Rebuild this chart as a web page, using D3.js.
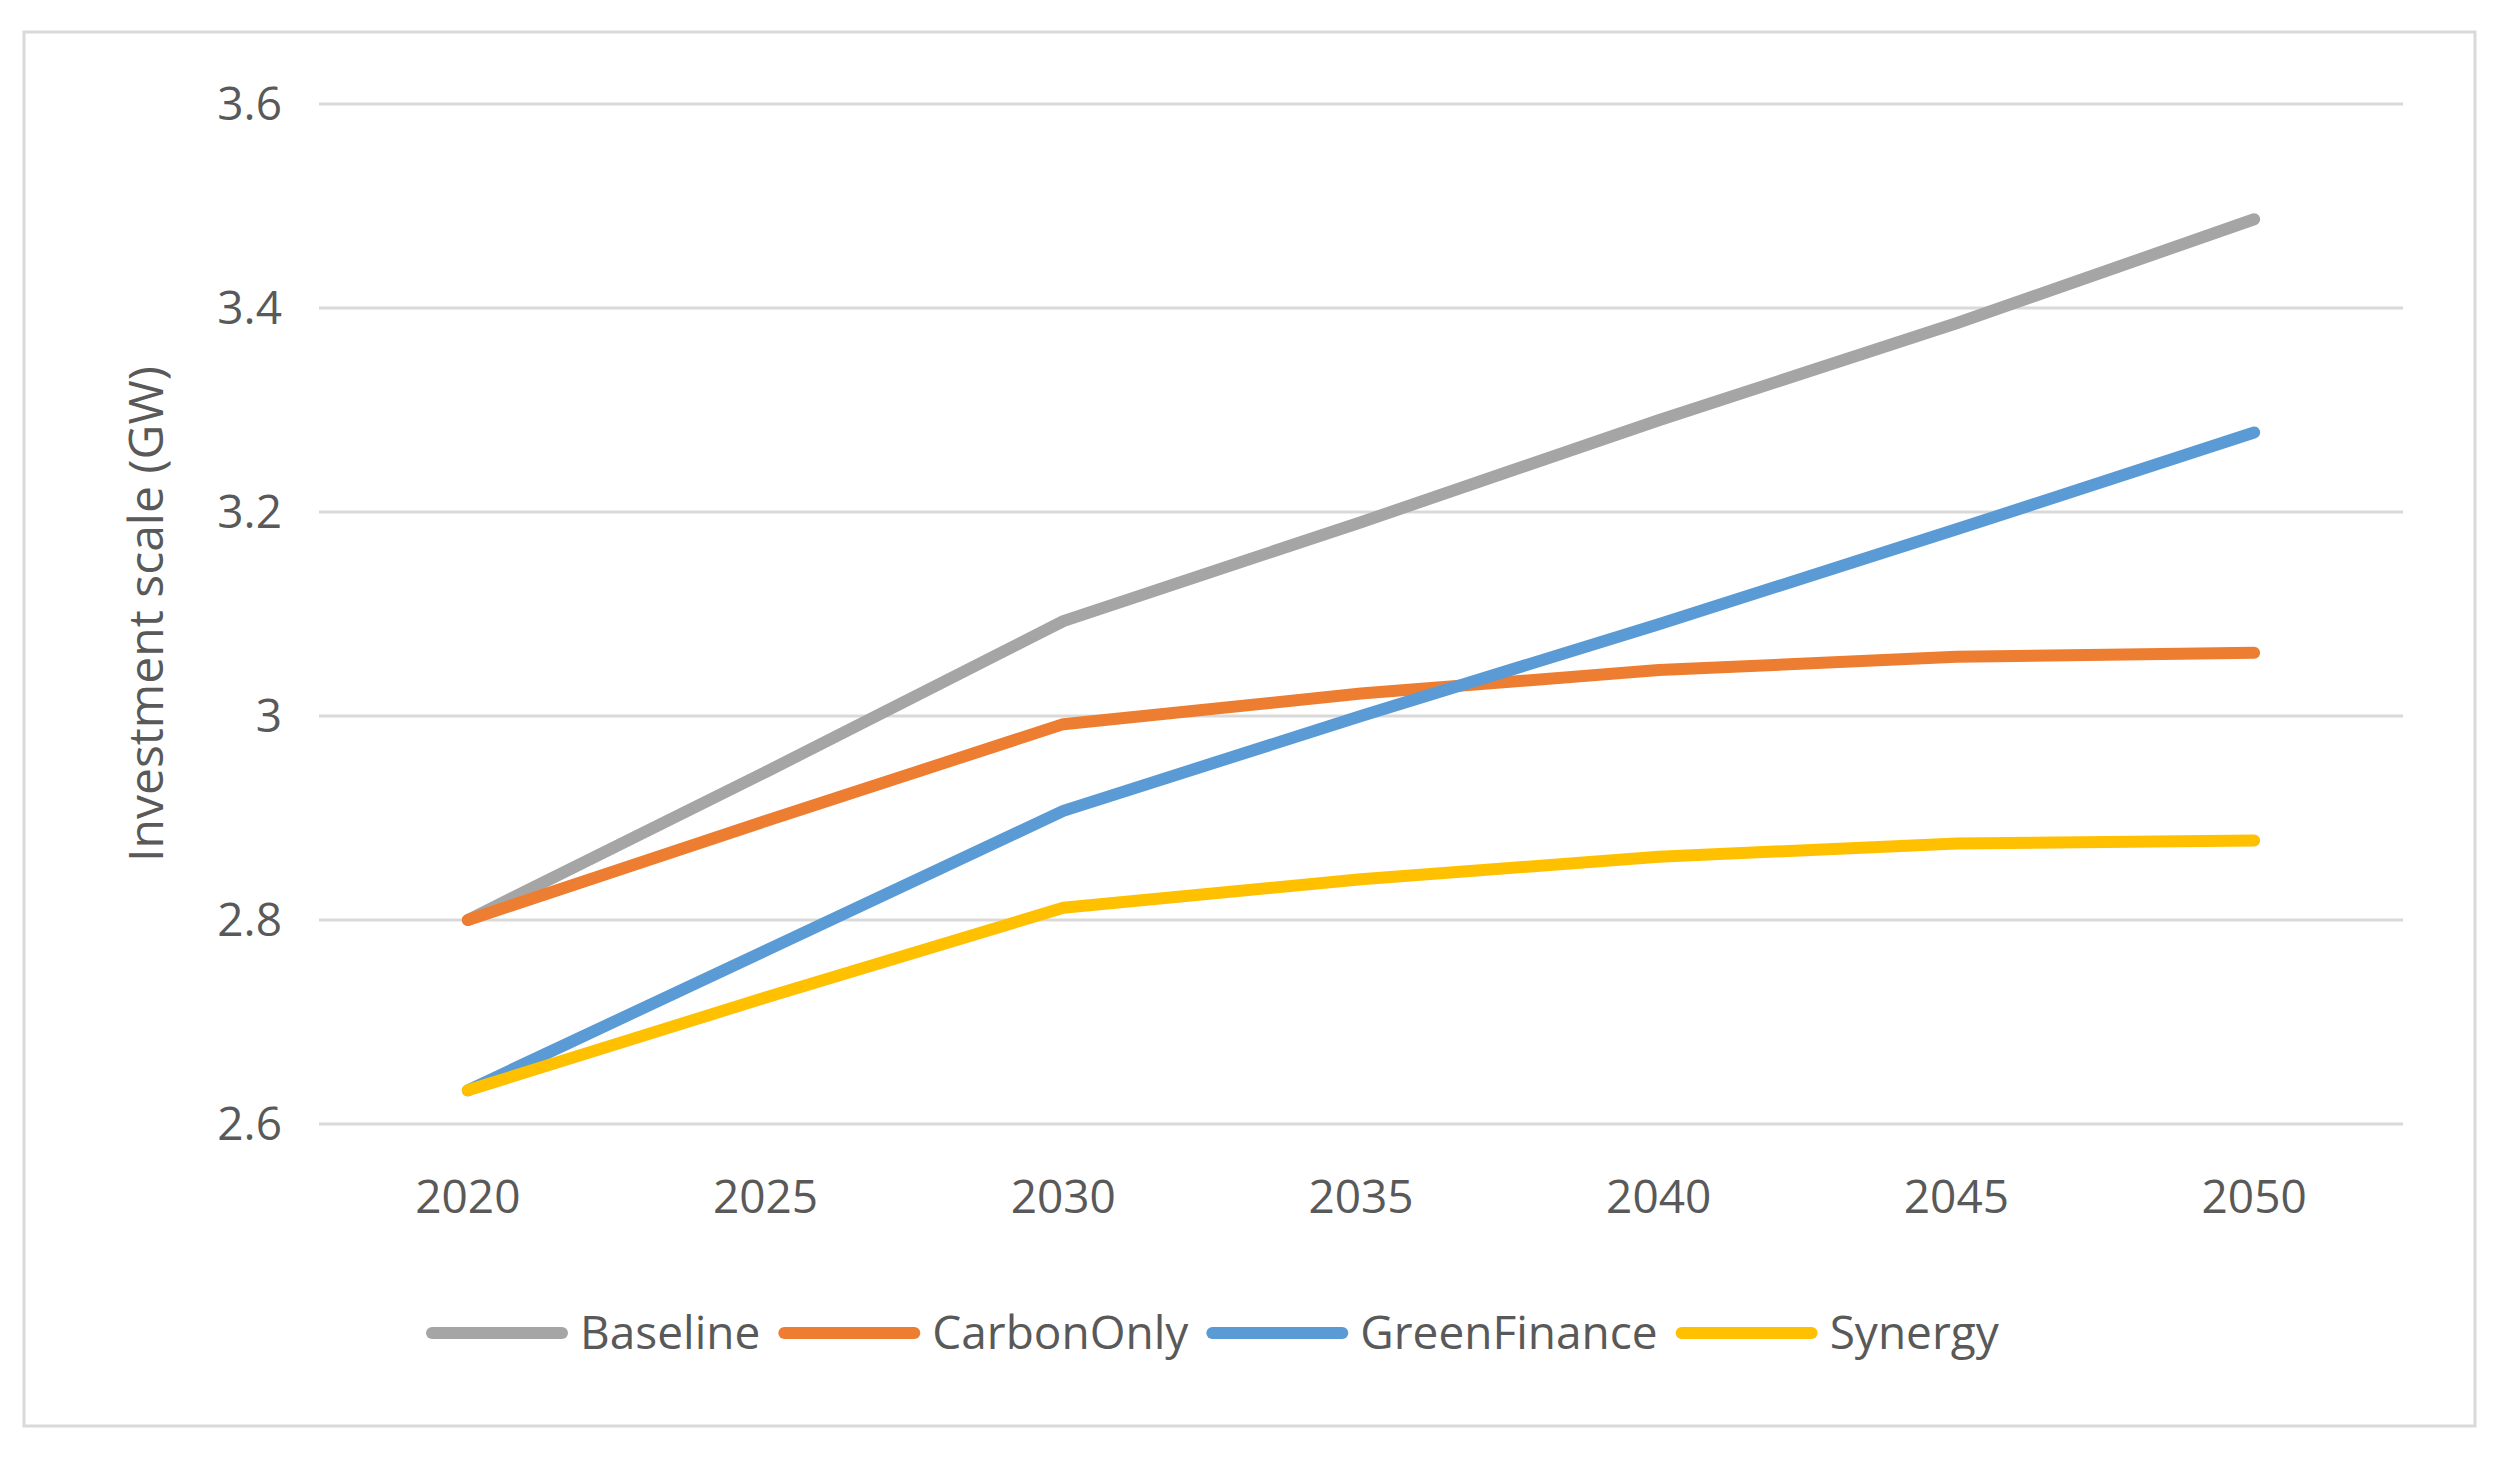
<!DOCTYPE html>
<html><head><meta charset="utf-8">
<script src="https://cdn.jsdelivr.net/npm/d3@7"></script>
<style>body{margin:0;background:#fff}</style>
</head><body>
<svg id="chart" width="2504" height="1459"></svg>
<script>
var years = [2020, 2025, 2030, 2035, 2040, 2045, 2050];
var seriesNames = ["Baseline", "CarbonOnly", "GreenFinance", "Synergy"];
var baseline = [2.80, 2.945, 3.093, 3.19, 3.29, 3.385, 3.487];
var carbonOnly = [2.80, 2.897, 2.992, 3.022, 3.045, 3.058, 3.062];
var greenFinance = [2.633, 2.77, 2.907, 3.0, 3.09, 3.183, 3.278];
var synergy = [2.633, 2.724, 2.812, 2.84, 2.862, 2.875, 2.878];
var yTicks = [2.6, 2.8, 3, 3.2, 3.4, 3.6];
var colors = ["#A5A5A5", "#ED7D31", "#5B9BD5", "#FFC000"];

var allSeries = [baseline, carbonOnly, greenFinance, synergy];
var font = "'Open Sans', 'Liberation Sans', sans-serif";
var svg = d3.select("#chart");

svg.append("rect").attr("x", 24).attr("y", 32).attr("width", 2451).attr("height", 1394)
  .attr("fill", "#fff").attr("stroke", "#D9D9D9").attr("stroke-width", 3);

var plotLeft = 319, plotRight = 2403, plotTop = 104, plotBottom = 1124;
var x = d3.scalePoint().domain(years).range([plotLeft, plotRight]).padding(0.5);
var y = d3.scaleLinear().domain([2.6, 3.6]).range([plotBottom, plotTop]);

// grid
svg.append("g").selectAll("line").data(yTicks).enter().append("line")
  .attr("x1", plotLeft).attr("x2", plotRight)
  .attr("y1", d => y(d)).attr("y2", d => y(d))
  .attr("stroke", "#D9D9D9").attr("stroke-width", 3);

// y labels
svg.append("g").selectAll("text").data(yTicks).enter().append("text")
  .attr("x", 282).attr("y", d => y(d)).attr("dy", "0.35em")
  .attr("text-anchor", "end").attr("font-family", font).attr("font-size", 46)
  .attr("fill", "#595959").text(d => d);

// x labels
svg.append("g").selectAll("text").data(years).enter().append("text")
  .attr("x", d => x(d)).attr("y", 1213)
  .attr("text-anchor", "middle").attr("font-family", font).attr("font-size", 46)
  .attr("fill", "#595959").text(d => d);

svg.append("text").attr("transform", "translate(163," + ((plotTop + plotBottom) / 2) + ") rotate(-90)")
  .attr("text-anchor", "middle").attr("font-family", font).attr("font-size", 48)
  .attr("fill", "#595959").text("Investment scale (GW)");

var line = d3.line().x((d, i) => x(years[i])).y(d => y(d));
svg.append("g").selectAll("path").data(allSeries).enter().append("path")
  .attr("d", line).attr("fill", "none")
  .attr("stroke", (d, i) => colors[i]).attr("stroke-width", 12)
  .attr("stroke-linejoin", "round").attr("stroke-linecap", "round");

// legend
var lg = svg.append("g").attr("transform", "translate(428,0)");
var ly = 1333, cx = 0;
seriesNames.forEach(function(name, i) {
  var g = lg.append("g").attr("transform", "translate(" + cx + ",0)");
  g.append("line").attr("x1", 4).attr("x2", 134).attr("y1", ly).attr("y2", ly)
    .attr("stroke", colors[i]).attr("stroke-width", 12).attr("stroke-linecap", "round");
  var t = g.append("text").attr("x", 152).attr("y", ly).attr("dy", "0.35em")
    .attr("font-family", font).attr("font-size", 46).attr("fill", "#595959").text(name);
  cx += 152 + t.node().getComputedTextLength() + 20;
});
</script>
</body></html>
